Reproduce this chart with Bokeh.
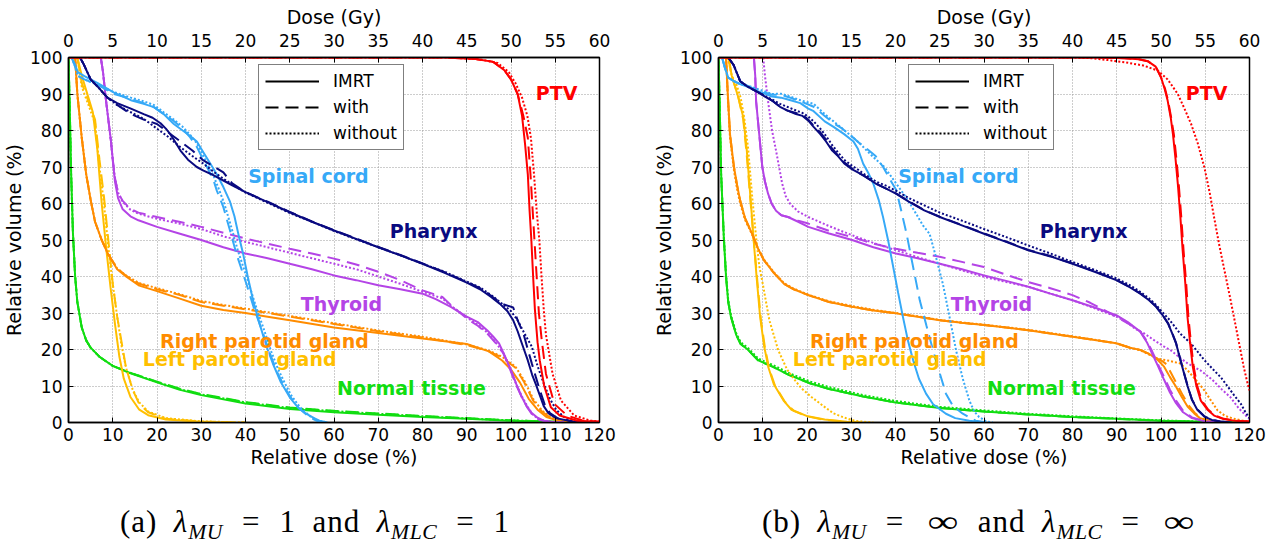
from bokeh.plotting import figure
from bokeh.models import (Range1d, FixedTicker, LinearAxis, Label, Legend,
                          LegendItem, Div, ColumnDataSource)
from bokeh.layouts import column, row
from bokeh.embed import file_html
from bokeh.resources import INLINE

# ---------------- axes / ticks ----------------
DOSE_TICKS = list(range(0, 121, 10))      # relative dose (%)
VOL_TICKS = list(range(0, 101, 10))       # relative volume (%)
GY_TICKS = list(range(0, 61, 5))          # dose (Gy)
PRESCRIPTION_GY = 50.0                    # 100 % relative dose

# ---------------- panel (a): lambda_MU = 1, lambda_MLC = 1 ----------------
a_ptv_imrt = [(0,100),(85,100),(92,99.6),(96,98.8),(98.5,96.5),(100,94),(101.5,90),(102.5,84),(103.2,76),(103.8,68),(104.2,58),(104.6,50),(105,40),(105.4,31),(106,22),(106.5,17),(107.5,10),(109,4.2),(111,1.9),(115,0.5),(120,0.2)]
a_ptv_with = [(0,100),(85,100),(92,99.6),(96,98.8),(98.5,96.5),(100,94),(101.5,90),(102.8,84),(103.8,78),(104.4,68),(104.9,58),(105.3,50),(105.8,40),(106.3,30),(107,22),(107.9,13.3),(109.8,5.1),(112.7,1.9),(116,0.6),(120,0.2)]
a_ptv_without = [(0,100),(86,100),(93,99.5),(97,98.5),(99.5,96),(101,93),(102.5,89),(103.7,84),(104.5,78),(105.2,68),(105.8,58),(106.4,50),(106.9,40),(107.4,31),(107.9,24),(109.4,13.3),(111.3,6),(114.3,1.9),(118,0.5),(120,0.3)]

a_pha_imrt = [(2.6,100),(3.5,98),(5,94),(6.6,92),(8.8,89),(11,87.5),(14.1,86),(17,84.5),(19,83.5),(20.8,82),(22,80.5),(23,79),(24.3,76.5),(25.3,74.5),(27,72),(29,70),(30.5,69),(32.7,67.8),(35,66.3),(37,65),(40,63.1),(45,60.4),(50,57.6),(55,55),(60,52.6),(65,50.3),(70,48),(75,45.8),(80,43.5),(85,41),(90,38.3),(93,36.5),(95.5,34.4),(97.5,32.5),(99.2,30.5),(100.5,28),(101.5,25),(102.5,21.5),(103.8,17),(104.8,13),(105.6,10.5),(106.5,7.5),(107.4,4.5),(108.5,2.5),(110.2,1.2),(113.8,0.3),(118,0)]
a_pha_with = [(2.6,100),(3.5,98),(5,94),(6.6,92),(8.8,89),(11,87),(14.1,84.5),(17,83),(20,81.8),(22.5,79.5),(25.3,77),(28,74.5),(30.5,71.8),(33,70),(35,68.5),(37,65.5),(40,63.1),(45,60.5),(50,57.7),(55,55.1),(60,52.7),(65,50.4),(70,48.1),(75,45.9),(80,43.6),(85,41.2),(90,38.5),(93,36.8),(95.5,34.7),(98,32.5),(100.5,31.5),(101.5,28),(102.8,24.4),(103.8,20),(104.7,16.2),(105.6,12.5),(106.5,8.9),(107.6,5),(108.8,2.6),(110.5,1.2),(114,0.3),(118,0)]
a_pha_without = [(2.6,100),(3.5,98),(5,94),(6.6,92),(8.8,89),(11,87),(14.1,85),(17,83.2),(20,80.5),(22.5,78.3),(25.3,75.4),(28,73),(30.5,70.9),(33,68.5),(35,66.8),(37,65.2),(40,63),(45,60.2),(50,57.4),(55,55),(60,52.5),(65,50.2),(70,48),(75,45.8),(80,43.5),(85,41.3),(90,38.6),(93,37),(96,34.5),(98,32.5),(100,30.5),(101.5,28),(103,24.5),(104.7,20.8),(106,15.5),(107.4,10.7),(108.8,6.5),(110.2,3.5),(112,1.5),(113.8,0.5),(118,0)]

a_sc_imrt = [(0.7,100),(1.5,98),(2.1,96),(3.6,94.9),(6.6,93),(10.3,90.4),(14.1,88.3),(17,87.3),(19.3,86.4),(21.5,84.5),(23.8,81.8),(25.8,80),(27.5,78.5),(29,77),(30.5,74),(32,71),(33.5,68),(35,64.5),(36.5,60.5),(37.5,56.5),(38.5,51),(39.5,46),(40.5,40),(41.8,33),(43.2,27),(44.7,21),(46.2,16.1),(48,11),(50,6.9),(51.8,4.2),(53.7,2.4),(55.5,1.2),(56.7,0.5),(58.5,0)]
a_sc_with = [(0.7,100),(1.5,97.5),(2.1,95),(3.6,94),(6.6,92.5),(10.3,90),(14.1,88.7),(17,87.5),(19.3,86.4),(21.5,84.5),(23.8,82.6),(25.8,80.5),(27.5,78.1),(29,75.5),(30.5,71.8),(31.7,69),(32.8,66.3),(33.5,63.6),(35,59),(36.5,52.6),(38,46),(40.2,38),(42,31),(44,24.3),(45.5,19),(47,14.2),(48.5,10.5),(50,7.2),(52,4),(54.4,1.5),(56,0.5),(58,0)]
a_sc_without = [(0.7,100),(1.5,97.5),(2.1,95),(3.6,94),(6.6,92.5),(10.3,90.5),(14.1,89),(17,88),(19.3,87),(21.5,85),(23.8,83),(25.8,81),(27.5,78.8),(29,76.5),(30.5,73),(31.7,70),(32.8,67.5),(33.8,64.5),(35.2,60),(36.8,53.5),(38.3,47),(40.5,39),(42.3,32),(44.3,25),(45.8,19.5),(47.3,14.8),(48.8,11),(50.3,7.5),(52.3,4.2),(54.6,1.7),(56.5,0.5),(58.5,0)]

a_thy_imrt = [(7.3,100),(7.8,96),(8.5,88),(9.1,82),(9.6,77),(10,72),(10.5,66),(11.2,61.5),(12.2,58.5),(14,56.5),(15.8,55.4),(20,53.6),(25,51.8),(30,50),(35,48),(40,46.3),(45,45),(50,43.5),(55,42),(60,40.3),(65,39),(70,37.6),(75,36.5),(80,35.3),(83,33.8),(86.4,31.7),(90,29),(92.5,27.5),(94.6,25.3),(96,23.5),(97.3,21.7),(98.5,18.5),(100,14.4),(101.2,10.5),(102.4,7.1),(103.5,4.5),(104.7,2.6),(106,1.3),(107.4,0.5),(110,0.1),(112,0)]
a_thy_with = [(7.3,100),(7.8,96),(8.5,88),(9.1,82),(9.6,77),(10,72),(10.5,67),(11.2,63),(12.2,60.8),(14,58.5),(15.8,57.5),(20,56.3),(25,55),(30,53.6),(35,52),(40,50.4),(45,49),(50,47.6),(55,46.3),(60,44.9),(65,43.3),(70,41.3),(75,39),(80,36.2),(84.5,34.4),(87,31.5),(90,28.5),(92.5,26.5),(94.6,24.4),(96.5,21.8),(98.3,18.9),(99.7,14.8),(101,10.7),(102.4,7),(103.8,3.9),(105,1.8),(106.5,0.7),(109,0.1),(112,0)]
a_thy_without = [(7.3,100),(7.8,96),(8.5,88),(9.1,82),(9.6,77),(10,72),(10.5,67),(11.2,63),(12.2,60.5),(14,58.3),(15.8,57.2),(20,55.8),(25,54.5),(30,53),(35,51),(40,49.5),(45,48),(50,46.5),(55,45),(60,43.5),(65,42),(70,40),(75,38),(80,35.8),(84.5,34),(87,31.5),(90,28.8),(92.5,26.8),(94.6,24.7),(96.5,22),(98.3,19),(99.7,15),(101,11),(102.4,7.3),(103.8,4.2),(105,2),(106.5,0.8),(109,0.1),(112,0)]

a_rp_imrt = [(1.5,100),(2,90),(3,78),(4,68),(5,61),(6,55),(7.5,50),(9,46),(11,42),(13,40),(16,37.5),(20,36),(25,34),(30,32),(35,30.8),(40,30),(45,29),(50,28),(60,26),(70,24.5),(80,23),(90,21.5),(95,19.5),(98,17),(100,14.5),(102,11),(104,6.5),(106,3.5),(108,1.5),(111,0.4),(116,0)]
a_rp_with = [(1.5,100),(2,90),(3,78),(4,68),(5,61),(6,55),(7.5,50),(9,46),(11,42.3),(13,40.2),(16,38),(20,36.5),(25,35),(30,33),(35,32),(40,31),(45,30),(50,29),(60,27),(70,25),(80,23.3),(90,21.2),(95,19.5),(98,17.8),(101,15),(103,11),(105,6),(107,3),(109,1.2),(112,0.3),(116,0)]
a_rp_without = [(1.5,100),(2,90),(3,78),(4,68),(5,61),(6,55),(7.5,50),(9,46),(11,42.2),(13,40.3),(16,38.2),(20,36.8),(25,35.2),(30,33.3),(35,32.2),(40,31.2),(45,30.2),(50,29.2),(60,27.2),(70,25.2),(80,23.5),(90,21.4),(95,19.7),(98,18),(101,15.3),(103,11.5),(105,6.5),(107,3.3),(109,1.4),(112,0.4),(116,0)]

a_lp_imrt = [(2,100),(3,95),(4.5,89),(5.5,85),(6.5,75),(7.5,60),(8.5,48),(9.5,37),(10.5,27),(11.5,18),(12.5,12),(14,7),(16,3.5),(18,2),(22,0.8),(30,0.2),(35,0)]
a_lp_with = [(2,100),(3,93),(4.5,88),(6,83),(7,72),(8,62),(9,50),(10,38),(11,29),(12,22),(13,15),(14.5,9),(16,5),(18,2.8),(22,1),(30,0.3),(40,0)]
a_lp_without = [(2,100),(3,92),(4.5,87),(6,82),(7,70),(8,60),(9,48),(10,38),(11,29),(12,21),(13,15),(14.5,9),(16,5.5),(18,3),(22,1.2),(30,0.3),(40,0)]

a_nt_imrt = [(0,100),(0.3,85),(0.6,68),(1,52),(1.5,40),(2,33),(3,26),(4,22.5),(5,20.5),(7,18),(10,15.5),(14,13.5),(20,11),(25,9),(30,7.5),(40,5.2),(50,3.7),(60,2.8),(70,2.1),(80,1.5),(90,1.0),(100,0.5),(110,0.2),(120,0)]
a_nt_with = [(0,100),(0.3,85),(0.6,68),(1,52),(1.5,40),(2,33),(3,26),(4,22.5),(5,20.5),(7,18),(10,15.5),(14,13.6),(20,11.2),(25,9.3),(30,7.8),(40,5.6),(50,4.1),(60,3.2),(70,2.5),(80,1.8),(90,1.2),(100,0.6),(110,0.2),(120,0)]
a_nt_without = [(0,100),(0.3,85),(0.6,68),(1,52),(1.5,40),(2,33),(3,26),(4,22.5),(5,20.5),(7,18),(10,15.5),(14,13.6),(20,11.1),(25,9.2),(30,7.7),(40,5.5),(50,4.0),(60,3.1),(70,2.4),(80,1.7),(90,1.1),(100,0.6),(110,0.2),(120,0)]

# ---------------- panel (b): lambda_MU = inf, lambda_MLC = inf ----------------
b_ptv_imrt = [(0,100),(85,100),(91.8,99.8),(95,99.5),(97,99),(98.8,97.5),(100,94.6),(100.8,91.5),(101.5,88.2),(102.2,83.5),(102.7,79),(103.3,72),(103.8,65.4),(104.4,56),(104.9,47.1),(105.5,38),(106,28.8),(106.6,21.5),(107.2,15.2),(108,10),(109,6),(110.5,3.5),(112,1.9),(114,1),(116.5,0.5),(120,0.3)]
b_ptv_with = [(0,100),(85,100),(91.8,99.8),(95,99.5),(97,99),(98.8,97.5),(100,94.6),(100.9,91.5),(101.6,88.2),(102.3,83.5),(102.9,79),(103.5,72),(104,65.4),(104.6,56),(105.1,47.1),(105.7,38),(106.2,28.8),(106.8,21.5),(107.4,15.2),(108.2,10),(109.2,6),(110.7,3.5),(112.2,1.9),(114.2,1),(116.7,0.5),(120,0.3)]
b_ptv_without = [(0,100),(80,100),(84.3,99.8),(88,99.3),(91.8,98.7),(96,97.8),(99.3,96.4),(101.5,94),(103.8,90),(105.3,86),(106.8,81.8),(108.3,76.5),(109.8,69.9),(111,63),(112,56.2),(113.1,49),(114.2,42.5),(115.4,35.5),(116.5,28.8),(117.6,22),(118.7,15.2),(119.4,11.5),(120,8.8)]

b_pha_imrt = [(2.2,100),(3.4,98),(4.9,93.5),(6.6,92),(8.9,90.5),(10.5,89.3),(12.1,88.2),(13.9,86.5),(15.5,85.5),(17.5,84.5),(19,84),(20.3,82.7),(21.5,81),(23,79),(24.3,77),(25.7,74.5),(27,73),(28.4,71),(30,69.5),(31.5,68.5),(33,67.5),(35.6,65.4),(38,64),(40.1,62.7),(43,60.5),(46.5,58.1),(50,56.3),(55,54),(60,51.7),(65,49.5),(70,47.2),(75,45.5),(80,43.5),(85,41.3),(89.9,39),(93,37),(95.3,35.3),(97.3,33.5),(98.9,31.7),(100.3,29.5),(101.6,27.1),(102.5,24.5),(103.4,21.7),(104.3,17.5),(105.2,13.5),(106,10),(107,6.2),(108.2,3.5),(109.8,1.6),(111.5,0.7),(113.4,0.3),(116,0)]
b_pha_with = [(2.2,100),(3.4,98),(4.9,93.5),(6.6,92),(8.9,90.5),(10.5,89.5),(12.1,88.2),(13.9,86.5),(15.5,85.5),(17.5,84.8),(19,84.2),(20.3,83),(21.5,81.3),(23,79.5),(24.3,77.5),(25.7,75),(27,73.2),(28.4,71.3),(30,69.8),(31.5,68.5),(33,67.5),(35.6,65.5),(38,64),(40.1,62.8),(43,60.6),(46.5,58.2),(50,56.4),(55,54.1),(60,51.8),(65,49.6),(70,47.3),(75,45.6),(80,43.6),(85,41.4),(89.9,39.1),(93,37.1),(95.3,35.4),(97.3,33.6),(98.9,31.8),(100.3,29.6),(101.6,27.2),(102.5,24.6),(103.4,21.8),(104.3,17.6),(105.2,13.6),(106,10.1),(107,6.3),(108.2,3.6),(109.8,1.7),(111.5,0.7),(113.4,0.3),(116,0)]
b_pha_without = [(2.2,100),(3.4,98),(4.9,93.5),(6.6,92),(8.9,90.5),(10.5,89.5),(12.1,88.5),(13.9,87.3),(15.5,86.5),(17.5,85.5),(19,84.8),(20.3,83.8),(21.5,82.5),(23,80.5),(24.3,78.5),(25.7,76),(27,74),(28.4,72),(30,70.5),(31.5,69.3),(33,68),(35.6,66),(38,64.8),(40.1,63.5),(43,61.5),(46.5,59.5),(50,57.5),(55,55.3),(60,53),(65,50.8),(70,48.5),(75,46.3),(80,44),(85,41.8),(89.9,39.5),(93,37.6),(95.3,35.8),(97.3,34),(98.9,32.2),(100,30.7),(102,28),(104.3,24.4),(106.8,21.6),(109.8,17.1),(111.8,14.5),(113.5,12.4),(115,10),(116.5,7.5),(118,5.2),(119,3),(120,1.2)]

b_sc_imrt = [(0.8,100),(1.5,97),(2.2,94.5),(3.5,93.5),(4.9,92.7),(6.6,92),(8.5,90.9),(10.3,90.2),(12.1,89.3),(14.1,89),(15.7,88.5),(18.5,87.5),(20.3,86),(21.5,85.3),(24,82.5),(26,81),(28.4,79),(30.5,77),(31.5,75),(32.7,70.9),(33.8,68.5),(35,65.4),(36.2,61),(37.2,56.2),(38.4,49.5),(39.5,42.5),(40.6,35.5),(41.7,28.8),(42.8,22.5),(44,17),(45.3,12),(46.9,7.9),(48.5,5),(51.4,2.4),(53.5,1.2),(56.7,0.5),(60,0)]
b_sc_with = [(0.8,100),(1.5,97),(2.2,94.5),(3.5,93.5),(4.9,92.7),(6.6,92.2),(8.5,91.2),(10.3,90.5),(12.1,89.8),(14.1,89.8),(15.7,89.2),(18.5,88),(21.5,86.5),(24,84),(26,82),(28,80.5),(30,78.5),(32,76.4),(34,74.5),(35.5,73),(37.2,70),(38.8,66.5),(40.2,63.6),(41.3,58),(42.5,51.7),(44,42.5),(45.5,33.4),(47,26.5),(48.5,19.7),(50,13.5),(51.4,7.9),(53,4.5),(55.2,2.4),(58.1,0.5),(61,0)]
b_sc_without = [(0.8,100),(1.5,97),(2.2,94.5),(3.5,93.5),(4.9,92.7),(6.6,92.3),(8.5,91.5),(10.3,90.8),(12.1,90),(14.1,90.1),(15.7,89.5),(18.5,88.3),(21.5,87.3),(24,84.5),(26,82.5),(28,80.5),(30,78.5),(32,76.4),(33.5,74.5),(35,72.7),(37.5,70),(40.2,65.4),(42.5,61.5),(44.5,57.5),(46.2,54),(47.7,51.7),(49,46),(50.7,38),(52.2,29),(53.7,19.7),(55.2,12),(56.7,6),(57.8,3),(58.9,1.5),(60.5,0.3),(62,0)]

b_thy_imrt = [(8,100),(8.3,95),(8.5,88),(9.2,79),(9.9,70),(10.5,66),(11.2,62.7),(12,60),(13,58),(14.2,56.8),(15.7,56.3),(18,55),(20.3,53.6),(25,51.8),(30.2,50),(35,48),(40.1,46.3),(45,45),(50,43.5),(55,42),(60,40.3),(65,38.8),(70,37.2),(75,35.3),(80,33.5),(85,31.5),(89.9,29.4),(92.5,27.5),(95.3,24.9),(96.8,22),(98,18.9),(99.3,15.5),(100.7,11.7),(102,8.3),(103.4,5.3),(105,2.8),(107,1.2),(110,0.3),(113,0)]
b_thy_with = [(8,100),(8.3,95),(8.5,88),(9.2,79),(9.9,70),(10.5,66),(11.2,62.7),(12,60),(13,58),(14.2,56.8),(15.7,56.3),(18,55.3),(20.3,54.5),(25,52.5),(30.2,50.8),(35,49),(40.1,47.6),(45,46.5),(50,45.4),(55,44),(60,42.6),(65,40.5),(70,38.5),(75,36.8),(80,34.9),(84,32.8),(87.2,30.8),(91,28.2),(93.5,26.5),(95.3,25),(96.8,22.3),(98,19.5),(99.3,16),(100.7,12.5),(102,9),(103.4,6),(105,3.2),(107,1.4),(110,0.3),(113,0)]
b_thy_without = [(10.1,100),(10.5,95),(11.2,88),(12.1,80),(13,74.5),(14.4,65.4),(15.2,62),(16.2,59.9),(18,57.8),(20.3,56.3),(25,53.8),(30.2,51.3),(35,49.2),(40.1,47.2),(45,45.3),(50,43.5),(55,41.7),(60,39.9),(65,38.5),(70,37.2),(75,35.3),(80,33.5),(85,31.3),(89.9,29),(91.8,27.9),(94,25.8),(96.2,24.4),(98.5,22.5),(100.7,20.8),(102.3,19.7),(104,18),(106,16.2),(109,14.2),(111.6,11.7),(113.8,9),(115.7,6.9),(117.5,4),(119.5,1.5),(120,1)]

b_rp_imrt = [(1.7,100),(2.1,90),(2.6,79),(3.5,70),(4.2,65),(4.9,60.8),(6,56),(7.6,51.7),(9,47.5),(10.3,44.4),(12.5,41),(14.8,38),(17,36.5),(20.3,34.9),(25,33),(30.2,31.7),(35,30.7),(40.1,29.9),(45,29),(50,28),(55,27.3),(60,26.7),(65,26),(70,25.3),(75,24.4),(80,23.5),(85,22.6),(89.9,21.7),(93,20.5),(95.3,19.9),(97.3,18.8),(98.9,17.6),(100.7,15.3),(102,12.5),(103.4,9.8),(104.7,7),(106,4.4),(107.5,2.5),(108.8,1.2),(110.5,0.6),(112,0.3),(115,0)]
b_rp_with = [(1.7,100),(2.1,90),(2.6,79),(3.5,70),(4.2,65),(4.9,60.8),(6,56),(7.6,51.7),(9,47.5),(10.3,44.4),(12.5,41),(14.8,38),(17,36.5),(20.3,34.9),(25,33),(30.2,31.7),(35,30.7),(40.1,29.9),(45,29),(50,28),(55,27.3),(60,26.7),(65,26),(70,25.3),(75,24.4),(80,23.5),(85,22.6),(89.9,21.7),(93,20.5),(95.3,19.9),(97.3,18.8),(98.9,17.6),(100.3,16.8),(101.2,16),(102.3,13.5),(103.6,10.5),(104.9,7.5),(106.2,4.8),(107.6,2.7),(108.9,1.3),(110.5,0.6),(112,0.3),(115,0)]
b_rp_without = [(1.7,100),(2.1,89),(2.6,78),(3.5,69),(4.2,64),(4.9,60),(6,55.5),(7.6,51.5),(9,47.5),(10.3,44.6),(12.5,41.2),(14.8,38.2),(17,36.7),(20.3,35),(25,33.2),(30.2,31.9),(35,30.9),(40.1,30),(45,29.1),(50,28.1),(55,27.4),(60,26.8),(65,26.1),(70,25.4),(75,24.5),(80,23.6),(85,22.7),(89.9,21.7),(93,20.5),(95.3,19.8),(97.3,18.6),(99.3,17.5),(101.5,17),(104.3,16.2),(106,14.3),(108,11.5),(109.8,8.8),(111.3,6),(112.8,3.3),(114.5,1.8),(116.5,1),(118.5,0.5),(120,0.3)]

b_lp_imrt = [(2.25,100),(3,95),(4.5,89),(5.6,83.6),(6.4,74.5),(7.2,62),(7.9,50.7),(8.6,40),(9.4,29),(10.3,21),(11.3,15),(12.5,10.5),(14.7,6),(16.5,3.5),(19.9,1.8),(24,0.8),(29,0.2),(32,0)]
b_lp_with = [(2.25,100),(3,95),(4.5,89),(5.6,83),(6.4,73),(7.2,61),(8,49.5),(8.8,38.5),(9.6,28),(10.5,20.5),(11.5,14.5),(12.8,10),(15,5.7),(17,3.2),(20,1.7),(24,0.7),(29,0.2),(32,0)]
b_lp_without = [(2.1,100),(3,95),(4,92.8),(5,89),(5.8,83.6),(6.7,75),(7.6,62),(8.5,50.7),(9.2,43),(10,38),(11.5,28),(13.5,19.8),(15.5,14.5),(17,12),(18.8,9.3),(21,7),(23.7,4.5),(26,2.5),(28.5,1.3),(31,0.4),(35,0)]

b_nt_imrt = [(0,100),(0.3,85),(0.6,68),(1.2,50.7),(1.7,40),(2.2,33),(2.8,29),(4,24),(5,21.5),(6.6,20),(9,17),(12.2,15.3),(16,13),(20.8,10.7),(25,9.2),(32.7,7.1),(40,5.5),(50,4),(60,3),(70,2.2),(80,1.5),(90,1.0),(100,0.5),(110,0.2),(120,0)]
b_nt_with = [(0,100),(0.3,85),(0.6,68),(1.2,50.7),(1.7,40),(2.2,33),(2.8,29),(4,24),(5,21.5),(6.6,20),(9,17),(12.2,15.3),(16,13),(20.8,10.7),(25,9.2),(32.7,7.1),(40,5.5),(50,4),(60,3),(70,2.2),(80,1.5),(90,1.0),(100,0.5),(110,0.2),(120,0)]
b_nt_without = [(0,100),(0.3,85),(0.6,68),(1.2,51),(1.7,40.5),(2.2,33.5),(2.8,29.5),(4,24.5),(5,22),(6.6,20.5),(9,17.5),(12.2,15.8),(16,13.5),(20.8,11.2),(25,9.7),(32.7,7.5),(40,5.9),(50,4.3),(60,3.3),(70,2.4),(80,1.7),(90,1.1),(100,0.6),(110,0.2),(120,0)]

PANEL_A = {
    "nt": (a_nt_imrt, a_nt_with, a_nt_without),
    "lp": (a_lp_imrt, a_lp_with, a_lp_without),
    "rp": (a_rp_imrt, a_rp_with, a_rp_without),
    "thy": (a_thy_imrt, a_thy_with, a_thy_without),
    "sc": (a_sc_imrt, a_sc_with, a_sc_without),
    "pha": (a_pha_imrt, a_pha_with, a_pha_without),
    "ptv": (a_ptv_imrt, a_ptv_with, a_ptv_without),
}
PANEL_B = {
    "nt": (b_nt_imrt, b_nt_with, b_nt_without),
    "lp": (b_lp_imrt, b_lp_with, b_lp_without),
    "rp": (b_rp_imrt, b_rp_with, b_rp_without),
    "thy": (b_thy_imrt, b_thy_with, b_thy_without),
    "sc": (b_sc_imrt, b_sc_with, b_sc_without),
    "pha": (b_pha_imrt, b_pha_with, b_pha_without),
    "ptv": (b_ptv_imrt, b_ptv_with, b_ptv_without),
}

STRUCT_NAMES = {"ptv": "PTV", "sc": "Spinal cord", "pha": "Pharynx", "thy": "Thyroid",
                "rp": "Right parotid gland", "lp": "Left parotid gland", "nt": "Normal tissue"}
COLORS = {"ptv": "#ff0000", "pha": "#0a0a80", "sc": "#36a9f7", "thy": "#b444e6",
          "rp": "#ff8c00", "lp": "#ffbf00", "nt": "#11dd11"}
LABEL_POS = {"ptv": (105.6, 90.4), "sc": (40.6, 67.4), "pha": (72.6, 52.4), "thy": (52.5, 32.4),
             "rp": (20.7, 22.3), "lp": (16.8, 17.3), "nt": (60.7, 9.4)}
VARIANTS = ["IMRT", "with", "without"]
DASHES = ["solid", "13 7", "2 2"]

FONT = "DejaVu Sans"


def make_panel(data, width, right_border):
    p = figure(width=width, height=480, output_backend="svg", toolbar_location=None,
               x_range=Range1d(0, 120), y_range=Range1d(0, 100),
               min_border_left=64, min_border_right=right_border,
               min_border_top=57, min_border_bottom=58,
               x_axis_label="Relative dose (%)", y_axis_label="Relative volume (%)")
    p.background_fill_color = "white"
    p.border_fill_color = "white"
    p.outline_line_color = "black"
    p.outline_line_width = 1.5

    p.xaxis.ticker = FixedTicker(ticks=DOSE_TICKS)
    p.yaxis.ticker = FixedTicker(ticks=VOL_TICKS)
    top = LinearAxis(ticker=FixedTicker(ticks=[g * 100.0 / PRESCRIPTION_GY for g in GY_TICKS]),
                     major_label_overrides={g * 100.0 / PRESCRIPTION_GY: str(g) for g in GY_TICKS},
                     axis_label="Dose (Gy)")
    p.add_layout(top, "above")

    for ax in p.axis:
        ax.axis_line_color = "black"
        ax.axis_line_width = 1.5
        ax.major_tick_in = 5
        ax.major_tick_out = 0
        ax.major_tick_line_color = "black"
        ax.minor_tick_line_color = None
        ax.major_label_text_font = FONT
        ax.major_label_text_font_size = "17px"
        ax.major_label_text_color = "black"
        ax.axis_label_text_font = FONT
        ax.axis_label_text_font_size = "19px"
        ax.axis_label_text_font_style = "normal"
        ax.axis_label_text_color = "black"
    p.xaxis.major_label_standoff = 5
    p.xaxis.axis_label_standoff = 2
    top.major_label_standoff = 11
    top.axis_label_standoff = 3
    p.yaxis.major_label_standoff = 6
    p.yaxis.axis_label_standoff = 2

    p.grid.grid_line_color = "#9a9a9a"
    p.grid.grid_line_dash = "1 2"
    p.grid.grid_line_width = 1

    for key in ["nt", "lp", "rp", "thy", "sc", "pha", "ptv"]:
        for pts, dash in zip(data[key], DASHES):
            src = ColumnDataSource(dict(x=[d for d, _ in pts], y=[v for _, v in pts]))
            p.line("x", "y", source=src, line_color=COLORS[key], line_width=2, line_dash=dash)

    for key, (lx, ly) in LABEL_POS.items():
        p.add_layout(Label(x=lx, y=ly, text=STRUCT_NAMES[key], text_color=COLORS[key],
                           text_font=FONT, text_font_size="19px", text_font_style="bold",
                           text_baseline="middle", text_align="left"))

    items = []
    for name, dash in zip(VARIANTS, DASHES):
        r = p.line(x=[float("nan")], y=[float("nan")], line_color="black", line_width=2, line_dash=dash)
        items.append(LegendItem(label=name, renderers=[r]))
    legend = Legend(items=items, location=(190, 272), orientation="vertical",
                    label_text_font=FONT, label_text_font_size="17px", label_text_color="black",
                    glyph_width=54, glyph_height=20, label_height=20, label_standoff=14,
                    padding=6, spacing=6, margin=0,
                    border_line_color="black", border_line_width=1.5,
                    background_fill_color="white", background_fill_alpha=1.0)
    p.add_layout(legend)
    return p


pa = make_panel(PANEL_A, 650, 51)
pb = make_panel(PANEL_B, 621, 22)

CAP_STYLE = ("font-family:'Liberation Serif','DejaVu Serif',serif;font-size:31px;color:black;"
             "white-space:nowrap;text-align:center;line-height:31px;padding-top:21px;"
             "letter-spacing:1px;word-spacing:3px;")
SUB = "<sub style='font-size:0.7em;vertical-align:-0.3em;line-height:0;letter-spacing:0.5px'><i>{}</i></sub>"
INF = "<span style='display:inline-block;transform:scaleX(1.4);margin:0 6px 0 9px'>&infin;</span>"
cap_a = Div(text=("<div style=\"%swidth:620px;\">(a)&ensp;<i>&lambda;</i>%s&nbsp;&thinsp;=&thinsp;&nbsp;1&ensp;and&ensp;"
                  "<i>&lambda;</i>%s&nbsp;&thinsp;=&thinsp;&nbsp;1</div>") % (CAP_STYLE, SUB.format("MU"), SUB.format("MLC")),
            width=650, height=65)
cap_b = Div(text=("<div style=\"%swidth:629px;\">(b)&ensp;<i>&lambda;</i>%s&nbsp;&thinsp;=&thinsp;&nbsp;%s&ensp;and&ensp;"
                  "<i>&lambda;</i>%s&nbsp;&thinsp;=&thinsp;&nbsp;%s</div>") % (CAP_STYLE, SUB.format("MU"), INF, SUB.format("MLC"), INF),
            width=621, height=65)

layout = column(row(pa, pb, spacing=0), row(cap_a, cap_b, spacing=0), spacing=0)

open("out.html", "w").write(file_html(layout, INLINE))
